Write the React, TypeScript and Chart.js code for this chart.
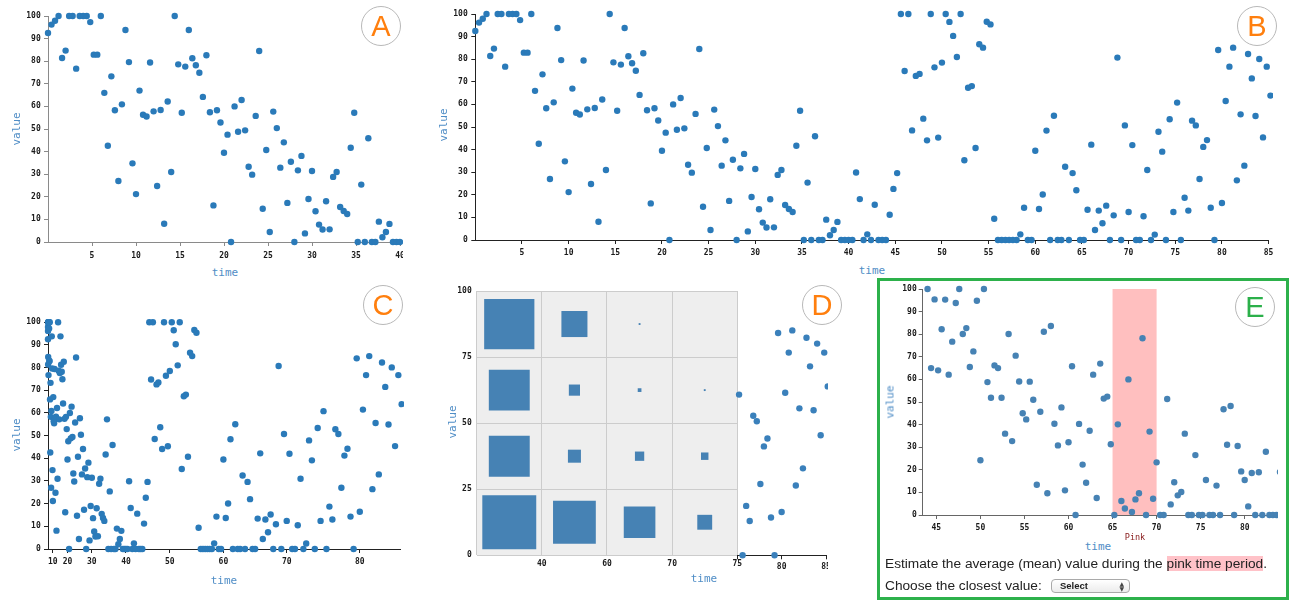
import React, { useEffect, useRef } from "react";
import { Chart, registerables } from "chart.js";

Chart.register(...registerables);

// ---------------- data ----------------
// one sample every 0.4 time units (2.5 samples per unit)
const SAMPLES_PER_UNIT = 2.5;
const seriesValues = [
  92.5, 96.2, 97.9, 100, 81.4, 84.7, 100, 100, 76.7, 100,
  100, 100, 97.3, 82.9, 82.9, 100, 66, 42.6, 73.3, 58.3,
  27, 60.9, 93.8, 79.6, 34.8, 21.2, 67, 56.3, 55.5, 79.4,
  57.8, 24.8, 58.4, 8.1, 62.2, 31, 100, 78.6, 57.2, 77.6,
  93.8, 81.3, 78.2, 74.9, 64.2, 82.6, 57.4, 16.2, 58.3, 52.9,
  39.5, 47.5, 0, 60, 48.8, 62.8, 49.4, 33.3, 29.8, 55.8,
  84.5, 14.7, 40.7, 4.4, 57.7, 50.4, 32.9, 44.1, 17.3, 35.5,
  0, 31.7, 38.1, 3.8, 19, 31.4, 13.6, 7.7, 5.5, 18,
  5.6, 28.8, 31, 15.5, 13.7, 12.4, 41.7, 57.2, 0, 25.4,
  0, 45.9, 0, 0, 9, 2.1, 4.4, 8, 0, 0,
  0, 0, 29.9, 18.1, 0, 2.5, 0, 15.6, 0, 0,
  0, 11.2, 22.6, 29.6, 100, 74.8, 100, 48.5, 72.6, 73.5,
  53.7, 44.1, 100, 76.4, 45.3, 78.5, 100, 96.5, 90.3, 81,
  100, 35.3, 67.4, 68.1, 40.7, 86.6, 85.1, 96.6, 95.4, 9.4,
  0, 0, 0, 0, 0, 0, 2.5, 14.3, 0, 0,
  39.5, 13.7, 20.1, 48.4, 0, 55, 0, 0, 32.4, 0,
  29.6, 22, 0, 0, 13.4, 42.2, 4.4, 13, 7.4, 15.2,
  0, 10.9, 80.7, 0, 50.7, 12.4, 42, 0, 0, 10.5,
  31, 0, 2.4, 47.9, 39.1, 0, 53.4, 12.4, 60.8, 0,
  18.7, 13, 52.8, 50.7, 27, 41.2, 44.2, 14.3, 0, 84.1,
  16.4, 61.5, 76.7, 85.1, 26.4, 55.6, 32.9, 82.3, 71.5, 54.9,
  80.1, 45.4, 76.7, 63.9, 38.9,
];

// panel E shows another series, starting at time 44
const panelETimeStart = 44;
const panelEValues = [
  100, 65, 95.4, 64, 82.2, 95.3, 62.1, 76.7, 93.8, 100,
  80.1, 82.7, 65.5, 72.4, 94.8, 24.2, 100, 58.8, 51.9, 66.2,
  65, 51.9, 36, 80.1, 32.7, 70.5, 59.1, 45, 42.3, 59,
  51, 13.4, 45.7, 81.1, 9.6, 83.6, 40.4, 30.8, 47.6, 10.9,
  32.2, 65.8, 0, 40.3, 22.3, 14.3, 37.3, 62.1, 7.5, 67,
  51.5, 52.4, 31.3, 0, 40.1, 6.2, 2.9, 60, 1.3, 6.9,
  9.6, 78.2, 0, 36.9, 7.2, 23.3, 0, 0, 51.3, 4.7,
  14.5, 8.7, 10.2, 36, 0, 0, 26.5, 0, 0, 15.5,
  0, 0, 13, 0, 46.8, 31.1, 48.2, 0, 30.5, 19.3,
  15.5, 3.8, 18.6, 0, 18.9, 0, 28, 0, 0, 0,
  19,
];

const valueTicks = [0, 10, 20, 30, 40, 50, 60, 70, 80, 90, 100];
const timeTicksA = [5, 10, 15, 20, 25, 30, 35, 40];
const timeTicksB = [5, 10, 15, 20, 25, 30, 35, 40, 45, 50, 55, 60, 65, 70, 75, 80, 85];
const timeTicksC = [10, 20, 30, 40, 50, 60, 70, 80];
const heatTimeEdges = [0, 40, 60, 70, 75];
const heatValueEdges = [0, 25, 50, 75, 100];
const timeTicksDRight = [75, 80, 85];
const timeTicksE = [45, 50, 55, 60, 65, 70, 75, 80];
const pinkPeriod = [65, 70];

// ---------------- derived ----------------
const seriesPoints = seriesValues.map((v, i) => ({ x: i / SAMPLES_PER_UNIT, y: v }));
const seriesPointsSquared = seriesPoints.map((p) => ({ x: p.x * p.x, y: p.y }));
const rightPointsD = seriesPoints.filter((p) => p.x >= heatTimeEdges[heatTimeEdges.length - 1]);
const ePoints = panelEValues.map((v, j) => ({ x: panelETimeStart + j / SAMPLES_PER_UNIT, y: v }));

const heatCells: { x: number; y: number; count: number }[] = [];
for (let c = 0; c < heatTimeEdges.length - 1; c++) {
  for (let r = 0; r < heatValueEdges.length - 1; r++) {
    const lastRow = r === heatValueEdges.length - 2;
    const count = seriesPoints.filter(
      (p) =>
        p.x >= heatTimeEdges[c] &&
        p.x < heatTimeEdges[c + 1] &&
        p.y >= heatValueEdges[r] &&
        (lastRow ? p.y <= heatValueEdges[r + 1] : p.y < heatValueEdges[r + 1])
    ).length;
    if (count > 0) {
      heatCells.push({ x: c + 0.5, y: (heatValueEdges[r] + heatValueEdges[r + 1]) / 2, count });
    }
  }
}

// ---------------- styling ----------------
const POINT_BLUE = "#2a7ab9";
const STEEL = "#4682b4";
const TICK_FONT = { family: '"DejaVu Sans Mono", monospace', size: 8, weight: "bold" as const };
const TICK_COLOR = "#1a1a1a";
const SQUARE_PX_PER_COUNT = 1.86;

type Frame = { x: number; y: number; w: number; h: number; l: number; t: number; r: number; b: number };

type AxisOpts = {
  min: number;
  max: number;
  ticks: number[];
  label?: (v: number) => string;
  tickLen: number;
  pad: number;
  color: string;
  border?: boolean;
  gridOnArea?: boolean;
  gridColor?: string;
  display?: boolean;
};

function axis(pos: "bottom" | "left", size: number, o: AxisOpts) {
  return {
    type: "linear",
    position: pos,
    display: o.display !== false,
    min: o.min,
    max: o.max,
    afterBuildTicks: (s: any) => {
      s.ticks = o.ticks.map((v) => ({ value: v }));
    },
    afterFit: (s: any) => {
      if (pos === "bottom") s.height = size;
      else s.width = size;
      s.paddingLeft = 0;
      s.paddingRight = 0;
      s.paddingTop = 0;
      s.paddingBottom = 0;
    },
    ticks: {
      autoSkip: false,
      maxRotation: 0,
      minRotation: 0,
      padding: o.pad,
      color: TICK_COLOR,
      font: TICK_FONT,
      callback: (v: any) => (o.label ? o.label(Number(v)) : String(v)),
    },
    grid: {
      display: true,
      drawOnChartArea: !!o.gridOnArea,
      drawTicks: o.tickLen > 0,
      tickLength: o.tickLen,
      color: o.gridColor ?? o.color,
      lineWidth: 1,
    },
    border: { display: o.border !== false, color: o.color, width: 1 },
  };
}

function config(f: Frame, hasY: boolean, datasets: any[], xAxis: AxisOpts, yAxis: AxisOpts, plugins: any[] = []) {
  return {
    type: "scatter",
    data: { datasets },
    options: {
      responsive: false,
      maintainAspectRatio: false,
      animation: false,
      events: [],
      layout: {
        autoPadding: false,
        padding: {
          left: 0,
          top: f.t - f.y,
          right: f.x + f.w - f.r,
          bottom: 0,
        },
      },
      plugins: { legend: { display: false }, tooltip: { enabled: false }, title: { display: false } },
      scales: {
        x: axis("bottom", f.y + f.h - f.b, xAxis),
        y: axis("left", f.l - f.x, { ...yAxis, display: hasY }),
      },
    },
    plugins,
  };
}

function dots(data: any[], color: string) {
  return {
    data,
    pointRadius: 3.2,
    pointBackgroundColor: color,
    pointBorderWidth: 0,
    pointHoverRadius: 3.2,
    clip: false,
  };
}

const heatBackground = {
  id: "heatBackground",
  beforeDraw(chart: any) {
    const { ctx, chartArea: a } = chart;
    ctx.save();
    ctx.fillStyle = "#eeeeee";
    ctx.fillRect(a.left, a.top, a.right - a.left, a.bottom - a.top);
    ctx.restore();
  },
};

const pinkBand = {
  id: "pinkBand",
  beforeDraw(chart: any) {
    const { ctx, chartArea: a, scales } = chart;
    const x0 = scales.x.getPixelForValue(pinkPeriod[0]);
    const x1 = scales.x.getPixelForValue(pinkPeriod[1]);
    ctx.save();
    ctx.fillStyle = "#ffbfbf";
    ctx.fillRect(x0, a.top, x1 - x0, a.bottom - a.top);
    ctx.restore();
  },
};

// ---------------- frames (canvas box + plot area, page px) ----------------
const frameA: Frame = { x: 0, y: 0, w: 403, h: 262, l: 48, t: 16, r: 400, b: 242 };
const frameB: Frame = { x: 420, y: 0, w: 853, h: 262, l: 475.3, t: 14, r: 1268.6, b: 240 };
const frameC: Frame = { x: 0, y: 300, w: 404, h: 280, l: 48, t: 322.3, r: 400, b: 549 };
const frameHeat: Frame = { x: 440, y: 280, w: 312, h: 300, l: 476.7, t: 291, r: 737.3, b: 555.3 };
const frameDRight: Frame = { x: 728, y: 280, w: 100, h: 300, l: 737.3, t: 291, r: 826, b: 555.3 };
const frameE: Frame = { x: 895, y: 280, w: 383, h: 258, l: 922.7, t: 289, r: 1277, b: 515 };

const yValueAxis = (color: string, pad: number): AxisOpts => ({
  min: 0,
  max: 100,
  ticks: valueTicks,
  tickLen: 4,
  pad,
  color,
});

const makeA = (f: Frame) =>
  config(
    f,
    true,
    [dots(seriesPoints, POINT_BLUE)],
    { min: 0, max: 40, ticks: timeTicksA, tickLen: 4, pad: 5, color: "#8a8a8a" },
    yValueAxis("#8a8a8a", 3.3)
  );

const makeB = (f: Frame) =>
  config(
    f,
    true,
    [dots(seriesPoints, POINT_BLUE)],
    { min: 0, max: 85, ticks: timeTicksB, tickLen: 4, pad: 3.9, color: "#222" },
    yValueAxis("#222", 3.6)
  );

const makeC = (f: Frame) =>
  config(
    f,
    true,
    [dots(seriesPointsSquared, POINT_BLUE)],
    {
      min: 0,
      max: 85 * 85,
      ticks: timeTicksC.map((t) => t * t),
      label: (v) => String(Math.round(Math.sqrt(v))),
      tickLen: 4,
      pad: 3.9,
      color: "#222",
    },
    yValueAxis("#222", 3.3)
  );

const makeHeat = (f: Frame) =>
  config(
    f,
    true,
    [
      {
        data: heatCells,
        pointStyle: "rect",
        pointRadius: (ctx: any) => (ctx.raw ? (ctx.raw.count * SQUARE_PX_PER_COUNT) / Math.SQRT2 : 0),
        pointHoverRadius: (ctx: any) => (ctx.raw ? (ctx.raw.count * SQUARE_PX_PER_COUNT) / Math.SQRT2 : 0),
        pointBackgroundColor: STEEL,
        pointBorderWidth: 0,
        clip: false,
      },
    ],
    {
      min: 0,
      max: heatTimeEdges.length - 1,
      ticks: heatTimeEdges.map((_, i) => i),
      label: (v) => (v === 0 ? "" : String(heatTimeEdges[v])),
      tickLen: 0,
      pad: 4.2,
      color: "#cccccc",
      border: false,
      gridOnArea: true,
    },
    {
      min: 0,
      max: 100,
      ticks: heatValueEdges,
      tickLen: 0,
      pad: 5,
      color: "#cccccc",
      border: false,
      gridOnArea: true,
    },
    [heatBackground]
  );

const makeDRight = (f: Frame) =>
  config(
    f,
    false,
    [dots(rightPointsD, "#3a80bb")],
    {
      min: 75,
      max: 85,
      ticks: timeTicksDRight,
      label: (v) => (v === 75 ? "" : String(v)),
      tickLen: 4,
      pad: 3,
      color: "#222",
    },
    yValueAxis("#222", 3)
  );

const makeE = (f: Frame) =>
  config(
    f,
    true,
    [dots(ePoints, STEEL)],
    {
      min: 43.45,
      max: 43.45 + (f.r - f.l) / 8.81,
      ticks: timeTicksE,
      tickLen: 4,
      pad: 4.2,
      color: "#666",
    },
    yValueAxis("#666", 2),
    [pinkBand]
  );

// ---------------- components ----------------
function ChartCanvas({ frame, make }: { frame: Frame; make: (f: Frame) => any }) {
  const ref = useRef<HTMLCanvasElement | null>(null);
  useEffect(() => {
    if (!ref.current) return;
    const chart = new Chart(ref.current, make(frame));
    return () => chart.destroy();
  }, []);
  return (
    <canvas
      ref={ref}
      width={frame.w}
      height={frame.h}
      style={{ position: "absolute", left: frame.x, top: frame.y, width: frame.w, height: frame.h }}
    />
  );
}

function AxisTitle({ x, y, text, vertical }: { x: number; y: number; text: string; vertical?: boolean }) {
  return (
    <div
      style={{
        position: "absolute",
        left: x,
        top: y,
        transform: `translate(-50%, -50%)${vertical ? " rotate(-90deg)" : ""}`,
        font: '11px "DejaVu Sans Mono", monospace',
        color: "#4f8dc6",
        whiteSpace: "nowrap",
        lineHeight: "13px",
      }}
    >
      {text}
    </div>
  );
}

function Badge({ x, y, letter, color }: { x: number; y: number; letter: string; color: string }) {
  return (
    <div
      style={{
        position: "absolute",
        left: x - 20,
        top: y - 20,
        width: 38,
        height: 38,
        borderRadius: "50%",
        border: "1px solid #b8b8b8",
        background: "#fff",
        display: "flex",
        alignItems: "center",
        justifyContent: "center",
        font: '29px "Liberation Sans", Arial, sans-serif',
        color,
        lineHeight: 1,
      }}
    >
      {letter}
    </div>
  );
}

export default function App() {
  return (
    <div
      style={{
        position: "absolute",
        left: 0,
        top: 0,
        width: 1289,
        height: 600,
        background: "#fff",
        overflow: "hidden",
      }}
    >
      <ChartCanvas frame={frameA} make={makeA} />
      <ChartCanvas frame={frameB} make={makeB} />
      <ChartCanvas frame={frameC} make={makeC} />
      <ChartCanvas frame={frameHeat} make={makeHeat} />
      <ChartCanvas frame={frameDRight} make={makeDRight} />
      <ChartCanvas frame={frameE} make={makeE} />

      <AxisTitle x={16} y={129} text="value" vertical />
      <AxisTitle x={225} y={272} text="time" />
      <AxisTitle x={443} y={125} text="value" vertical />
      <AxisTitle x={872} y={270} text="time" />
      <AxisTitle x={16} y={435} text="value" vertical />
      <AxisTitle x={224} y={580} text="time" />
      <AxisTitle x={452} y={422} text="value" vertical />
      <AxisTitle x={704} y={578} text="time" />
      <AxisTitle x={890} y={402} text="value" vertical />
      <AxisTitle x={1098} y={546} text="time" />

      <div
        style={{
          position: "absolute",
          left: 1135,
          top: 537,
          transform: "translate(-50%, -50%)",
          font: '8.5px "DejaVu Sans Mono", monospace',
          color: "#8b2020",
          whiteSpace: "nowrap",
        }}
      >
        Pink
      </div>

      <Badge x={381} y={26} letter="A" color="#ff7f0e" />
      <Badge x={1257} y={26} letter="B" color="#ff7f0e" />
      <Badge x={383} y={305} letter="C" color="#ff7f0e" />
      <Badge x={822} y={305} letter="D" color="#ff7f0e" />
      <Badge x={1255} y={307} letter="E" color="#2bb04a" />

      <div
        style={{
          position: "absolute",
          left: 877,
          top: 278,
          width: 412,
          height: 322,
          border: "3px solid #2db14b",
          boxSizing: "border-box",
          pointerEvents: "none",
        }}
      />

      <div
        style={{
          position: "absolute",
          left: 885,
          top: 555,
          font: '13.7px "Liberation Sans", Arial, sans-serif',
          color: "#222",
          whiteSpace: "nowrap",
          lineHeight: "17px",
        }}
      >
        Estimate the average (mean) value during the{" "}
        <span style={{ background: "#ffc2c8" }}>pink time period</span>.
      </div>
      <div
        style={{
          position: "absolute",
          left: 885,
          top: 577,
          font: '13.7px "Liberation Sans", Arial, sans-serif',
          color: "#222",
          whiteSpace: "nowrap",
          lineHeight: "17px",
        }}
      >
        Choose the closest value:
      </div>
      <div
        style={{
          position: "absolute",
          left: 1051,
          top: 579,
          width: 79,
          height: 14,
          boxSizing: "border-box",
          border: "1px solid #a9a9a9",
          borderRadius: 4,
          background: "linear-gradient(#ffffff, #ececec)",
          font: 'bold 9.5px "Liberation Sans", Arial, sans-serif',
          color: "#222",
          lineHeight: "12px",
          paddingLeft: 8,
        }}
      >
        Select
        <span
          style={{
            position: "absolute",
            right: 5,
            top: 1,
            font: '6px "DejaVu Sans", sans-serif',
            lineHeight: "5px",
            display: "flex",
            flexDirection: "column",
            color: "#444",
          }}
        >
          <span>▲</span>
          <span>▼</span>
        </span>
      </div>
    </div>
  );
}
